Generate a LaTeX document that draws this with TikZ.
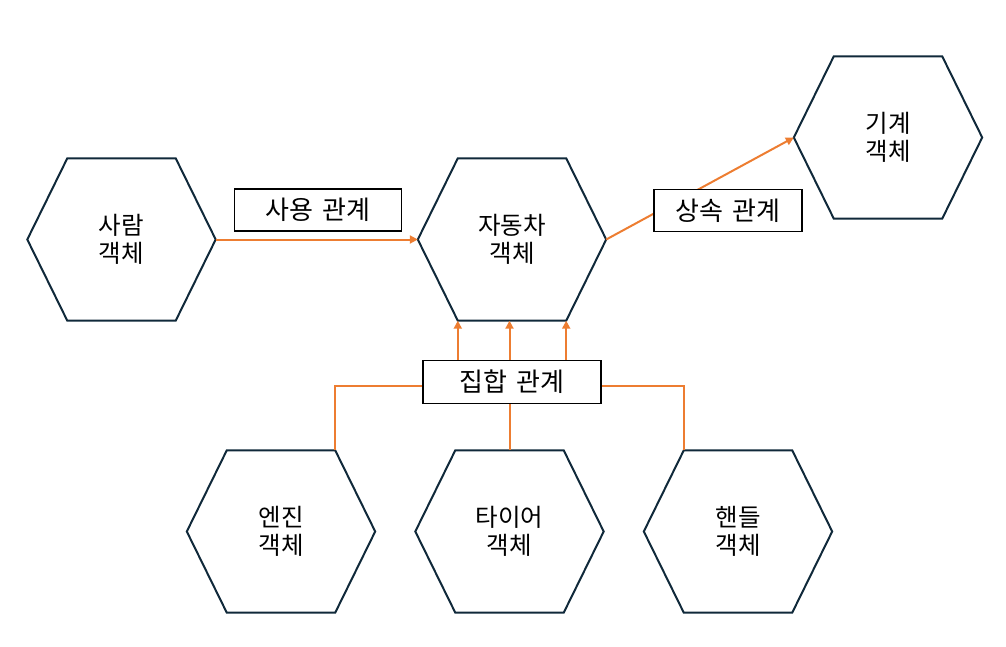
\documentclass[tikz,border=0pt]{standalone}
\usepackage{fontspec}
\setmainfont{Noto Sans CJK KR}
\usetikzlibrary{calc,arrows.meta}
\definecolor{hexcol}{HTML}{10293A}
\definecolor{conncol}{HTML}{ED7D31}
\tikzset{
  hexnode/.style={minimum width=188pt, minimum height=162pt, inner sep=0pt, align=center,
    font=\fontsize{24.5}{28.5}\selectfont, text=black},
  hexline/.style={draw=hexcol, line width=2pt, line join=miter},
  relbox/.style={draw=black, line width=1.2pt, fill=white, inner sep=0pt,
    font=\fontsize{26}{28}\selectfont},
  conn/.style={draw=conncol, line width=2pt},
  arr/.style={-{Triangle[length=8pt,width=8pt]}},
}
\newcommand\hexoutline[1]{%
  \coordinate (#1-tl) at ($(#1.north west)+(40pt,0)$);
  \coordinate (#1-tr) at ($(#1.north east)+(-40pt,0)$);
  \coordinate (#1-bl) at ($(#1.south west)+(40pt,0)$);
  \coordinate (#1-br) at ($(#1.south east)+(-40pt,0)$);
  \draw[hexline] (#1.west) -- (#1-tl) -- (#1-tr) -- (#1.east) -- (#1-br) -- (#1-bl) -- cycle;}
\newcommand\wsp{\hspace{0.36em}}
\begin{document}
\begin{tikzpicture}[x=1pt,y=-1pt]
\useasboundingbox (0,0) rectangle (1006,647);
% hexagon nodes
\node[hexnode] (person) at (121.5,239.5) {사람\\객체};
\node[hexnode] (car) at (512,239.5) {자동차\\객체};
\node[hexnode] (machine) at (888,137.5) {기계\\객체};
\node[hexnode] (engine) at (281,531.5) {엔진\\객체};
\node[hexnode] (tire) at (509.5,531.5) {타이어\\객체};
\node[hexnode] (handle) at (738,531.5) {핸들\\객체};
\hexoutline{person}
\hexoutline{car}
\hexoutline{machine}
\hexoutline{engine}
\hexoutline{tire}
\hexoutline{handle}
% connectors behind the boxes
\draw[conn,arr] (person.east) -- (car.west);
\draw[conn,arr] (car.east) -- (machine.west);
% relation boxes
\node[relbox, minimum width=167pt, minimum height=42pt] (use) at (318,210) {사용{\wsp}관계};
\node[relbox, minimum width=148pt, minimum height=42pt] (inherit) at (728,210.5) {상속{\wsp}관계};
\node[relbox, minimum width=178pt, minimum height=43pt] (agg) at (512,382) {집합{\wsp}관계};
% aggregation connectors
\draw[conn] (engine-tr) |- ([yshift=-4pt]agg.west);
\draw[conn] (tire.north) -- (tire.north |- agg.south);
\draw[conn] (handle-tl) |- ([yshift=-4pt]agg.east);
\draw[conn,arr] (car-bl |- agg.north) -- (car-bl);
\draw[conn,arr] (tire.north |- agg.north) -- (tire.north |- car.south);
\draw[conn,arr] (car-br |- agg.north) -- (car-br);
\end{tikzpicture}
\end{document}
